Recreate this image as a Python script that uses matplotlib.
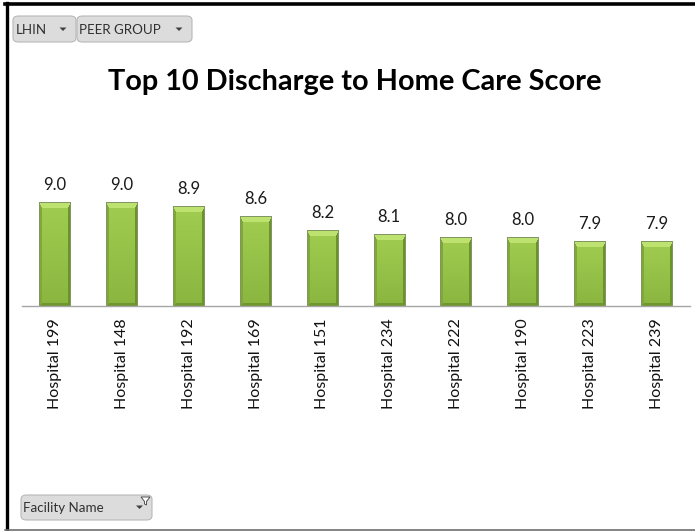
import numpy as np
import matplotlib
matplotlib.use('Agg')
import matplotlib.pyplot as plt
from matplotlib.patches import FancyBboxPatch, Polygon
from matplotlib.lines import Line2D

W, H = 695, 531

hospitals = ['Hospital 199', 'Hospital 148', 'Hospital 192', 'Hospital 169', 'Hospital 151',
             'Hospital 234', 'Hospital 222', 'Hospital 190', 'Hospital 223', 'Hospital 239']
scores = [9.0, 9.0, 8.9, 8.6, 8.2, 8.1, 8.0, 8.0, 7.9, 7.9]

YMIN, YMAX = 6.05, 9.4
BAR_W = 0.47

plt.rcParams['font.family'] = ['Lato', 'DejaVu Sans']


def fx(x):
    return x / W


def fy(y):
    return 1 - y / H


def bar_image(w_px, h_px):
    # bevelled bar: bright top chamfer, darker sides, slight vertical shading
    w_px = max(int(round(w_px)), 4)
    h_px = max(int(round(h_px)), 4)
    img = np.zeros((h_px, w_px, 3))
    top = np.array([160, 205, 80]) / 255
    bot = np.array([138, 182, 64]) / 255
    t = np.linspace(0, 1, h_px)[:, None]
    img[:] = (top * (1 - t) + bot * t)[:, None, :]
    bt, bs, bb = 6, 3, 3
    c_top = np.array([190, 226, 112]) / 255
    c_left = np.array([128, 168, 56]) / 255
    c_right = np.array([108, 146, 44]) / 255
    c_bot = np.array([112, 150, 48]) / 255
    for r in range(h_px):
        for c in range(w_px):
            d = {'t': r / bt, 'l': c / bs, 'r': (w_px - 1 - c) / bs, 'b': (h_px - 1 - r) / bb}
            k = min(d, key=d.get)
            if d[k] < 1:
                img[r, c] = {'t': c_top, 'l': c_left, 'r': c_right, 'b': c_bot}[k]
    # thin outline
    edge = np.array([130, 150, 100]) / 255
    img[0, :] = edge
    img[:, 0] = edge
    img[:, -1] = edge
    return img


fig = plt.figure(figsize=(W / 100, H / 100), dpi=100)
fig.patch.set_facecolor('white')

ax = fig.add_axes([fx(21.7), fy(306), fx(690) - fx(21.7), (YMAX - YMIN) * 35 / H])
x = np.arange(len(hospitals))
bars = ax.bar(x, [s - YMIN for s in scores], bottom=YMIN, width=BAR_W,
              color='#94c447', zorder=2)
ax.set_xlim(-0.5, len(hospitals) - 0.5)
ax.set_ylim(YMIN, YMAX)

fig.canvas.draw()
for xi, s in zip(x, scores):
    p0 = ax.transData.transform((xi - BAR_W / 2, YMIN))
    p1 = ax.transData.transform((xi + BAR_W / 2, s))
    img = bar_image(p1[0] - p0[0], p1[1] - p0[1])
    ax.imshow(img, extent=(xi - BAR_W / 2, xi + BAR_W / 2, YMIN, s),
              aspect='auto', interpolation='nearest', zorder=3)
    ax.annotate('{:.1f}'.format(s), (xi, s), xytext=(0, 9), textcoords='offset points',
                ha='center', va='baseline', fontsize=12, color='#1a1a1a',
                annotation_clip=False)
ax.set_xlim(-0.5, len(hospitals) - 0.5)
ax.set_ylim(YMIN, YMAX)

ax.set_xticks(x)
ax.set_xticklabels(hospitals, rotation=90, fontsize=11.5, color='#111111', va='top')
ax.tick_params(axis='x', length=0, pad=9)
ax.set_yticks([])
for side in ['top', 'left', 'right']:
    ax.spines[side].set_visible(False)
ax.spines['bottom'].set_color('#a6a6a6')
ax.spines['bottom'].set_linewidth(1.0)
ax.spines['bottom'].set_zorder(4)
ax.patch.set_alpha(0)

fig.text(fx(355), fy(90), 'Top 10 Discharge to Home Care Score', ha='center', va='baseline',
         fontsize=20.8, fontweight='bold', color='black')


def button(x0, y0, x1, y1, label, tx):
    fig.add_artist(FancyBboxPatch((fx(x0), fy(y1)), fx(x1 - x0), (y1 - y0) / H,
                                  boxstyle='round,pad=0,rounding_size=0.008',
                                  transform=fig.transFigure, facecolor='#dcdcdc',
                                  edgecolor='#b8b8b8', linewidth=0.8))
    fig.text(fx(tx), fy((y0 + y1) / 2 + 1), label, ha='left', va='center',
             fontsize=9.6, color='#303030')


def arrow(cx, cy):
    fig.add_artist(Polygon([(fx(cx - 3.5), fy(cy - 1.5)), (fx(cx + 3.5), fy(cy - 1.5)),
                            (fx(cx), fy(cy + 2))], closed=True, transform=fig.transFigure,
                           facecolor='#404040', edgecolor='none'))


button(13, 16, 76, 42, 'LHIN', 16)
arrow(63, 29)
button(77, 16, 192, 42, 'PEER GROUP', 79)
arrow(179, 29)
button(21, 495, 152, 520, 'Facility Name', 23)

# filter funnel icon
fig.add_artist(Polygon([(fx(141), fy(497)), (fx(150), fy(497)), (fx(146.5), fy(501.5)),
                        (fx(146.5), fy(505)), (fx(144.5), fy(504)), (fx(144.5), fy(501.5))],
                       closed=True, transform=fig.transFigure, facecolor='white',
                       edgecolor='#505050', linewidth=0.7))
arrow(139.5, 507)

# outer frame
fig.add_artist(Line2D([fx(6.5), fx(6.5)], [fy(3), fy(531)], transform=fig.transFigure,
                      color='black', linewidth=2.4))
fig.add_artist(Line2D([fx(5), fx(695)], [fy(4), fy(4)], transform=fig.transFigure,
                      color='black', linewidth=2.6))
fig.add_artist(Line2D([fx(5), fx(695)], [fy(529.5), fy(529.5)], transform=fig.transFigure,
                      color='#707070', linewidth=1.2))

fig.savefig('out.png', dpi=100)
